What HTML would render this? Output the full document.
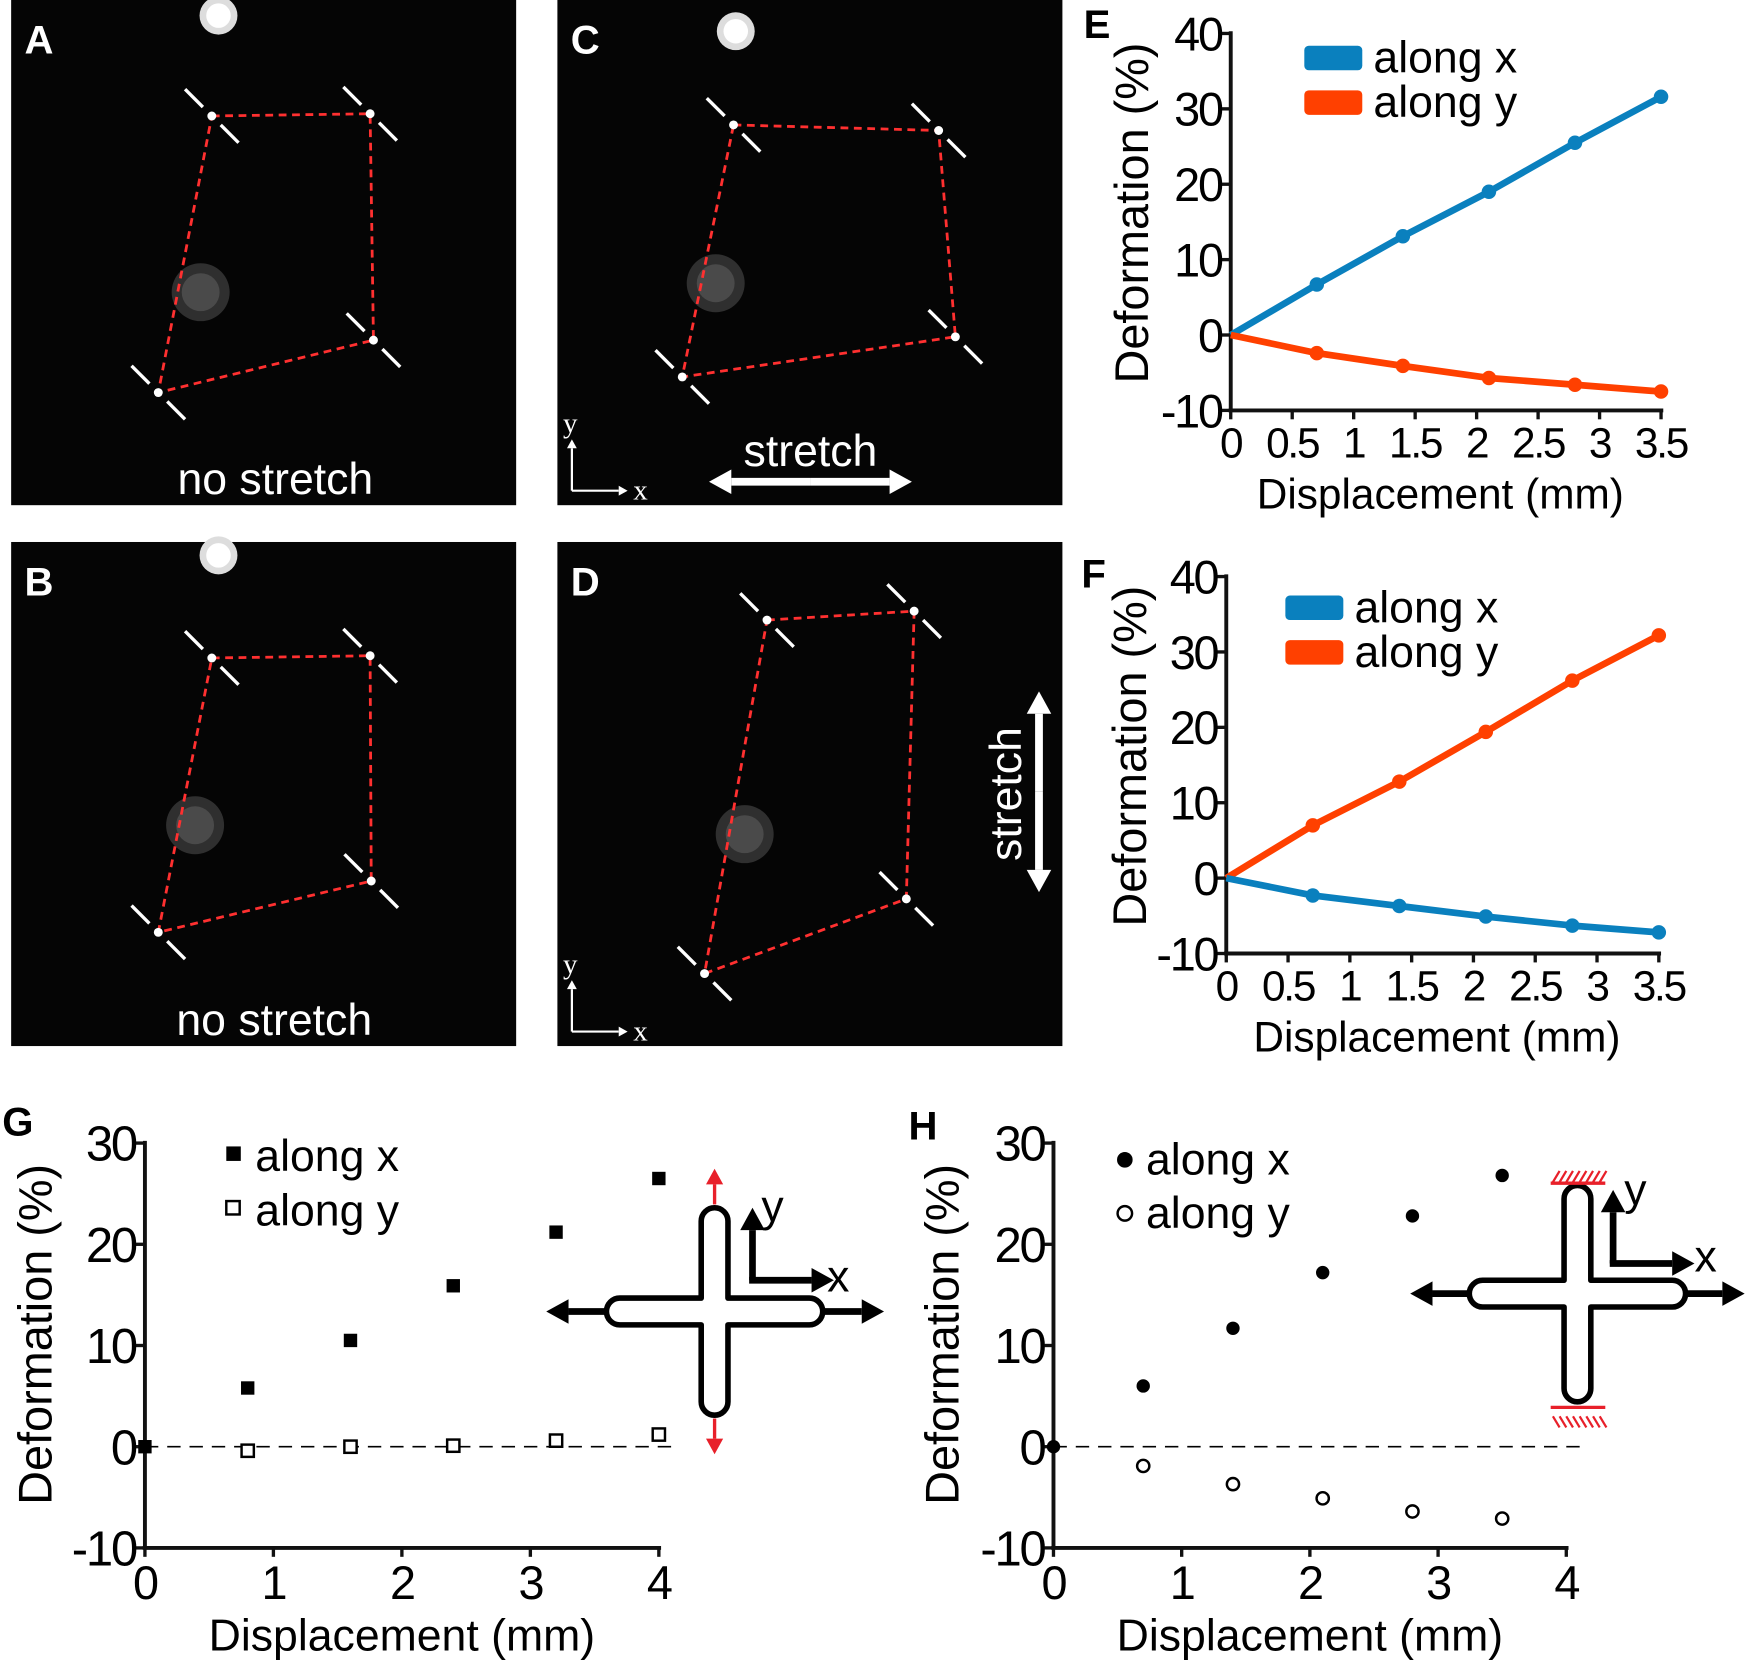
<!DOCTYPE html>
<html><head><meta charset="utf-8"><style>
html,body{margin:0;padding:0;background:#fff;}
svg{display:block;font-family:"Liberation Sans",Arial,sans-serif;}
</style></head><body>
<svg id="fig" width="1748" height="1665" viewBox="0 0 1568 1493" preserveAspectRatio="none" xmlns="http://www.w3.org/2000/svg">
<g id="micro"></g>
<g id="charts"></g>
</svg>
<script>
// ---- chart data ----
const dispE = [0, 0.7, 1.4, 2.1, 2.8, 3.5];
const eAlongX = [0, 6.7, 13.1, 19, 25.5, 31.6];
const eAlongY = [0, -2.4, -4.1, -5.7, -6.6, -7.5];
const dispF = [0, 0.7, 1.4, 2.1, 2.8, 3.5];
const fAlongY = [0, 7, 12.8, 19.4, 26.2, 32.2];
const fAlongX = [0, -2.3, -3.7, -5.1, -6.3, -7.2];
const dispG = [0, 0.8, 1.6, 2.4, 3.2, 4.0];
const gAlongX = [0, 5.8, 10.5, 15.9, 21.2, 26.5];
const gAlongY = [0, -0.4, 0, 0.1, 0.6, 1.2];
const dispH = [0, 0.7, 1.4, 2.1, 2.8, 3.5];
const hAlongX = [0, 6, 11.7, 17.2, 22.8, 26.8];
const hAlongY = [0, -1.9, -3.7, -5.1, -6.4, -7.1];
const xTicksEF = ["0","0.5","1","1.5","2","2.5","3","3.5"];
const yTicksEF = ["-10","0","10","20","30","40"];
const xTicksGH = ["0","1","2","3","4"];
const yTicksGH = ["-10","0","10","20","30"];

const NS="http://www.w3.org/2000/svg";
function mk(tag,attrs,parent,text){const e=document.createElementNS(NS,tag);for(const k in attrs)e.setAttribute(k,attrs[k]);if(text!==undefined)e.textContent=text;parent.appendChild(e);return e;}
const charts=document.getElementById('charts');
const micro=document.getElementById('micro');

function axes(g,o){
  const sx=v=>o.x0+(v-o.xmin)/(o.xmax-o.xmin)*(o.x1-o.x0);
  const sy=v=>o.y0-(v-o.ymin)/(o.ymax-o.ymin)*(o.y0-o.y1);
  const ax=mk('g',{},g);
  
  
  mk('line',{x1:o.x0,y1:o.y1-2,x2:o.x0,y2:o.y0,stroke:'#111','stroke-width':3.5},ax);
  mk('line',{x1:o.x0-2,y1:o.y0,x2:o.x1+2,y2:o.y0,stroke:'#111','stroke-width':3.5},ax);
  o.xt.forEach((t,i)=>{const v=parseFloat(t);const x=sx(v);
    mk('line',{x1:x,y1:o.y0,x2:x,y2:o.y0+8,stroke:'#111','stroke-width':3},ax);
    const tx=mk('text',{x:x,y:o.y0+o.tfs*0.95+6,'font-size':o.tfs,'text-anchor':'middle',fill:'#000','letter-spacing':-2},ax,t);
    
    
  });
  o.yt.forEach(t=>{const v=parseFloat(t);const y=sy(v);
    mk('line',{x1:o.x0-8,y1:y,x2:o.x0,y2:y,stroke:'#111','stroke-width':3},ax);
    const ty=mk('text',{x:o.x0-8,y:y+o.yfs*0.36,'font-size':o.yfs,'text-anchor':'end',fill:'#000','letter-spacing':-2},ax,t);
    
    
  });
  const xl=mk('text',{x:(o.x0+o.x1)/2+o.xlOff,y:o.y0+o.tfs+50,'font-size':o.lfs,'text-anchor':'middle',fill:'#000'},ax,'Displacement (mm)');
  
  
  const yc=(o.y0+o.y1)/2+o.ylOff;
  const yl=mk('text',{x:0,y:0,'font-size':o.ylfs,'text-anchor':'middle',fill:'#000',transform:`translate(${o.ylX},${yc}) rotate(-90)`},ax,'Deformation (%)');
  
  
  return {sx,sy};
}
function lineSeries(g,xs,ys,s,color,name){
  const sg=mk('g',{},g);
  
  
  mk('polyline',{points:xs.map((v,i)=>s.sx(v)+','+s.sy(ys[i])).join(' '),fill:'none',stroke:color,'stroke-width':6,'stroke-linejoin':'round'},sg);
  xs.forEach((v,i)=>{if(i===0)return;const c=mk('circle',{cx:s.sx(v),cy:s.sy(ys[i]),r:6.5,fill:color},sg);
    
    });
}
function legendBar(g,x,y,color,label){
  const lg=mk('g',{},g);
  
  
  mk('rect',{x:x,y:y-11,width:52,height:22,rx:4,fill:color},lg);
  mk('text',{x:x+62,y:y+13,'font-size':40,fill:'#000'},lg,label);
}
function panelLetter(x,y,l,color){
  const t=mk('text',{x:x,y:y,'font-size':36,'font-weight':'bold',fill:color},charts,l);
  
  
}

// Panel E
{const g=mk('g',{},charts);
 const s=axes(g,{x0:1104,x1:1490,xmin:0,xmax:3.5,y0:368,y1:30,ymin:-10,ymax:40,xt:xTicksEF,yt:yTicksEF,tfs:38,yfs:42,lfs:38,ylfs:42,xlOff:-5,ylOff:-8,ylX:1030});
 lineSeries(g,dispE,eAlongX,s,'#0a80be','series-along-x');
 lineSeries(g,dispE,eAlongY,s,'#ff4000','series-along-y');
 legendBar(g,1170,52,'#0a80be','along x');legendBar(g,1170,92,'#ff4000','along y');
 panelLetter(972,34,'E','#000');}
// Panel F
{const g=mk('g',{},charts);
 const s=axes(g,{x0:1100,x1:1488,xmin:0,xmax:3.5,y0:855,y1:517,ymin:-10,ymax:40,xt:xTicksEF,yt:yTicksEF,tfs:38,yfs:42,lfs:38,ylfs:42,xlOff:-5,ylOff:-8,ylX:1028});
 lineSeries(g,dispF,fAlongY,s,'#ff4000','series-along-y');
 lineSeries(g,dispF,fAlongX,s,'#0a80be','series-along-x');
 legendBar(g,1153,545,'#0a80be','along x');legendBar(g,1153,585,'#ff4000','along y');
 panelLetter(970,527,'F','#000');}
// Panel G
{const g=mk('g',{},charts);
 const s=axes(g,{x0:130,x1:591,xmin:0,xmax:4,y0:1388,y1:1025,ymin:-10,ymax:30,xt:xTicksGH,yt:yTicksGH,tfs:42,yfs:44,lfs:40,ylfs:42,xlOff:0,ylOff:-10,ylX:46});
 mk('line',{x1:130,y1:s.sy(0),x2:605,y2:s.sy(0),stroke:'#000','stroke-width':1.5,'stroke-dasharray':'12,8'},g);
 dispG.forEach((v,i)=>{const r=mk('rect',{x:s.sx(v)-6,y:s.sy(gAlongX[i])-6,width:12,height:12,fill:'#000'},g);
   });
 dispG.forEach((v,i)=>{if(i===0)return;const r=mk('rect',{x:s.sx(v)-5.5,y:s.sy(gAlongY[i])-5.5,width:11,height:11,fill:'#fff',stroke:'#000','stroke-width':2.2},g);
   });
 mk('rect',{x:203,y:1028,width:13,height:13,fill:'#000'},g);
 mk('text',{x:229,y:1050,'font-size':40},g,'along x');
 mk('rect',{x:203,y:1077,width:12,height:12,fill:'#fff',stroke:'#000','stroke-width':2.2},g);
 mk('text',{x:229,y:1099,'font-size':40},g,'along y');
 panelLetter(2,1018,'G','#000');}
// Panel H
{const g=mk('g',{},charts);
 const s=axes(g,{x0:945,x1:1405,xmin:0,xmax:4,y0:1388,y1:1025,ymin:-10,ymax:30,xt:xTicksGH,yt:yTicksGH,tfs:42,yfs:44,lfs:40,ylfs:42,xlOff:0,ylOff:-10,ylX:860});
 mk('line',{x1:945,y1:s.sy(0),x2:1420,y2:s.sy(0),stroke:'#000','stroke-width':1.5,'stroke-dasharray':'12,8'},g);
 dispH.forEach((v,i)=>{const c=mk('circle',{cx:s.sx(v),cy:s.sy(hAlongX[i]),r:6,fill:'#000'},g);
   });
 dispH.forEach((v,i)=>{if(i===0)return;const c=mk('circle',{cx:s.sx(v),cy:s.sy(hAlongY[i]),r:5.5,fill:'#fff',stroke:'#000','stroke-width':2.2},g);
   });
 mk('circle',{cx:1009,cy:1040,r:7,fill:'#000'},g);
 mk('text',{x:1028,y:1053,'font-size':40},g,'along x');
 mk('circle',{cx:1009,cy:1088,r:6.5,fill:'#fff',stroke:'#000','stroke-width':2.2},g);
 mk('text',{x:1028,y:1101,'font-size':40},g,'along y');
 panelLetter(815,1022,'H','#000');}

// Cross diagrams
function cross(cx,cy,hw,hh,arm,name){
  const g=mk('g',{},charts);
  const a=arm/2,r=a;
  const d=`M${cx-a},${cy-a} L${cx-a},${cy-hh+r} A${r},${r} 0 0 1 ${cx+a},${cy-hh+r} L${cx+a},${cy-a} L${cx+hw-r},${cy-a} A${r},${r} 0 0 1 ${cx+hw-r},${cy+a} L${cx+a},${cy+a} L${cx+a},${cy+hh-r} A${r},${r} 0 0 1 ${cx-a},${cy+hh-r} L${cx-a},${cy+a} L${cx-hw+r},${cy+a} A${r},${r} 0 0 1 ${cx-hw+r},${cy-a} Z`;
  mk('path',{d:d,fill:'#fff',stroke:'#000','stroke-width':5,'stroke-linejoin':'round'},g);
  return g;
}
function arrow(g,x1,y1,x2,y2,color,w,hs){
  const ang=Math.atan2(y2-y1,x2-x1);
  const bx=x2-hs*Math.cos(ang),by=y2-hs*Math.sin(ang);
  mk('line',{x1:x1,y1:y1,x2:bx,y2:by,stroke:color,'stroke-width':w},g);
  const px=-Math.sin(ang)*hs*0.55,py=Math.cos(ang)*hs*0.55;
  mk('polygon',{points:`${x2},${y2} ${bx+px},${by+py} ${bx-px},${by-py}`,fill:color},g);
}
{const g=cross(641,1176,97,93,24,'cross-diagram-g');
 arrow(g,545,1176,490,1176,'#000',6,20);arrow(g,738,1176,793,1176,'#000',6,20);
 arrow(g,641,1080,641,1048,'#e8202a',3,14);arrow(g,641,1272,641,1304,'#e8202a',3,14);
 arrow(g,675,1148,675,1083,'#000',6,20);arrow(g,672,1148,748,1148,'#000',6,20);
 mk('text',{x:683,y:1095,'font-size':40},g,'y');mk('text',{x:742,y:1158,'font-size':40},g,'x');}
{const g=cross(1415,1160,97,97,24,'cross-diagram-h');
 arrow(g,1318,1160,1265,1160,'#000',6,20);arrow(g,1512,1160,1565,1160,'#000',6,20);
 for(let i=0;i<8;i++){mk('line',{x1:1393+i*6,y1:1060,x2:1399+i*6,y2:1050,stroke:'#e8202a','stroke-width':2},g);
   mk('line',{x1:1393+i*6,y1:1270,x2:1399+i*6,y2:1280,stroke:'#e8202a','stroke-width':2},g);}
 mk('line',{x1:1391,y1:1061,x2:1440,y2:1061,stroke:'#e8202a','stroke-width':3},g);
 mk('line',{x1:1391,y1:1262,x2:1440,y2:1262,stroke:'#e8202a','stroke-width':3},g);
 arrow(g,1447,1133,1447,1067,'#000',6,20);arrow(g,1444,1133,1520,1133,'#000',6,20);
 mk('text',{x:1457,y:1080,'font-size':40},g,'y');mk('text',{x:1520,y:1140,'font-size':40},g,'x');}

// Microscopy panels
function microPanel(x,y,w,h,letter,quad,extra){
  const g=mk('g',{},micro);
  mk('rect',{x:x,y:y,width:w,height:h,fill:'#050505'},g);
  mk('circle',{cx:x+quad.blob[0],cy:y+quad.blob[1],r:26,fill:'#3a3a3a',opacity:0.8},g);
  mk('circle',{cx:x+quad.blob[0],cy:y+quad.blob[1],r:17,fill:'#555',opacity:0.7},g);
  if(quad.top) {mk('circle',{cx:x+quad.top[0],cy:y+quad.top[1],r:17,fill:'#ddd'},g);mk('circle',{cx:x+quad.top[0],cy:y+quad.top[1],r:11,fill:'#fff'},g);}
  const pts=quad.p.map(p=>[x+p[0],y+p[1]]);
  mk('polygon',{points:pts.map(p=>p.join(',')).join(' '),fill:'none',stroke:'#ff3030','stroke-width':2.5,'stroke-dasharray':'7,5'},g);
  pts.forEach((p,i)=>{mk('circle',{cx:p[0],cy:p[1],r:4,fill:'#fff'},g);
    mk('line',{x1:p[0]-24,y1:p[1]-24,x2:p[0]-8,y2:p[1]-8,stroke:'#fff','stroke-width':3},g);
    mk('line',{x1:p[0]+8,y1:p[1]+8,x2:p[0]+24,y2:p[1]+24,stroke:'#fff','stroke-width':3},g);});
  mk('text',{x:x+12,y:y+48,'font-size':36,'font-weight':'bold',fill:'#fff'},g,letter);
  extra&&extra(g);
}
const quadA={blob:[170,262],top:[186,14],p:[[180,104],[322,102],[325,305],[132,352]]};
microPanel(10,0,453,453,'A',quadA,g=>{mk('text',{x:247,y:443,'font-size':40,'text-anchor':'middle',fill:'#fff'},g,'no stretch');});
microPanel(10,486,453,452,'B',{blob:[165,254],top:[186,12],p:[[180,104],[322,102],[323,304],[132,350]]},g=>{mk('text',{x:246,y:928,'font-size':40,'text-anchor':'middle',fill:'#fff'},g,'no stretch');});
function xyAxes(g,x,y){arrow(g,x,y,x,y-46,'#fff',2,8);arrow(g,x,y,x+50,y,'#fff',2,8);
  mk('text',{x:x-8,y:y-52,'font-size':26,'font-family':'Liberation Serif',fill:'#fff'},g,'y');
  mk('text',{x:x+55,y:y+8,'font-size':26,'font-family':'Liberation Serif',fill:'#fff'},g,'x');}
microPanel(500,0,453,453,'C',{blob:[142,254],top:[160,28],p:[[158,112],[342,117],[357,302],[112,338]]},g=>{
  mk('text',{x:727,y:418,'font-size':40,'text-anchor':'middle',fill:'#fff'},g,'stretch');
  arrow(g,727,432,818,432,'#fff',7,20);arrow(g,727,432,636,432,'#fff',7,20);xyAxes(g,513,440);});
microPanel(500,486,453,452,'D',{blob:[168,262],p:[[188,70],[320,62],[313,320],[132,387]]},g=>{
  arrow(g,932,710,932,800,'#fff',7,20);arrow(g,932,710,932,620,'#fff',7,20);
  mk('text',{x:0,y:0,'font-size':40,'text-anchor':'middle',fill:'#fff',transform:'translate(916,712) rotate(-90)'},g,'stretch');
  xyAxes(g,513,925);});
</script>
</body></html>
